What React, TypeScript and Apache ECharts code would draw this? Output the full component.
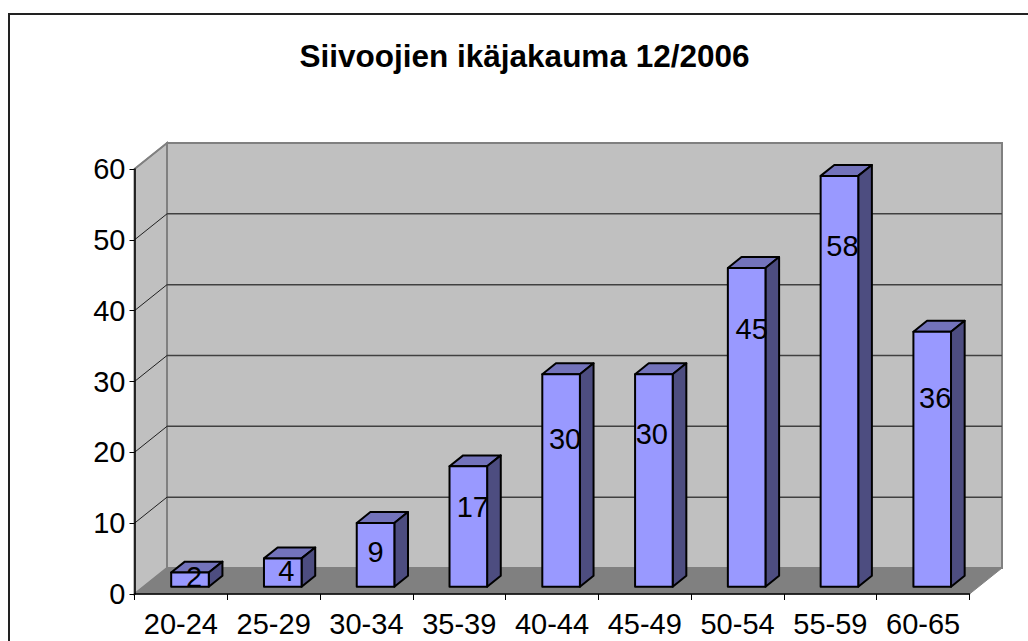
import React, { useEffect, useRef } from "react";
import * as echarts from "echarts";

const categories = ["20-24", "25-29", "30-34", "35-39", "40-44", "45-49", "50-54", "55-59", "60-65"];
const counts = [2, 4, 9, 17, 30, 30, 45, 58, 36];
const yTicks = [10, 20, 30, 40, 50, 60];

// Layout of the pseudo-3D box (pixels)
const DEPTH_X = 32.5;
const DEPTH_Y = 26;
const BAR_NEAR = 0.28;
const BAR_FAR = 0.7;
const BAR_WIDTH = 37.6;
// Excel's slightly irregular placement of the value labels (dx, distance under the bar's top)
const labelDx = [4, 3.5, 0, 4.5, 4, -2, 5, 3, 3];
const labelDrop = [4, 13, 29, 41, 65, 60, 61, 70, 66];

const FONT = '"Liberation Sans", Arial, sans-serif';

export default function App() {
  const ref = useRef<HTMLDivElement>(null);
  useEffect(() => {
    document.body.style.margin = "0";
    const chart = echarts.init(ref.current!, undefined, { renderer: "svg" });

    const renderBox = (params: any, api: any) => {
      const cs = params.coordSys;
      const x0 = cs.x, x1 = cs.x + cs.width, y0 = cs.y + cs.height;
      const top = api.coord([0, 60])[1];
      const children: any[] = [
        // back wall
        {
          type: "polygon",
          shape: { points: [[x0 + DEPTH_X, top - DEPTH_Y], [x1 + DEPTH_X, top - DEPTH_Y], [x1 + DEPTH_X, y0 - DEPTH_Y], [x0 + DEPTH_X, y0 - DEPTH_Y]] },
          style: { fill: "#C0C0C0", stroke: "#808080", lineWidth: 2 },
        },
        // side wall
        {
          type: "polygon",
          shape: { points: [[x0, top], [x0 + DEPTH_X, top - DEPTH_Y], [x0 + DEPTH_X, y0 - DEPTH_Y], [x0, y0]] },
          style: { fill: "#C0C0C0", stroke: "#808080", lineWidth: 2 },
        },
        // floor
        {
          type: "polygon",
          shape: { points: [[x0, y0], [x0 + DEPTH_X, y0 - DEPTH_Y], [x1 + DEPTH_X, y0 - DEPTH_Y], [x1, y0]] },
          style: { fill: "#808080", stroke: "#808080", lineWidth: 1 },
        },
      ];
      yTicks.forEach((t) => {
        const y = api.coord([0, t])[1];
        if (t < 60) {
          children.push({
            type: "line",
            shape: { x1: x0 + DEPTH_X, y1: y - DEPTH_Y, x2: x1 + DEPTH_X, y2: y - DEPTH_Y },
            style: { stroke: "#404040", lineWidth: 1.5 },
          });
        }
        children.push({
          type: "line",
          shape: { x1: x0, y1: y, x2: x0 + DEPTH_X, y2: y - DEPTH_Y },
          style: { stroke: t < 60 ? "#202020" : "#808080", lineWidth: t < 60 ? 1 : 1.5 },
        });
      });
      return { type: "group", children };
    };

    const renderBar = (params: any, api: any) => {
      const i = api.value(0);
      const v = api.value(1);
      const [cx, yTop0] = api.coord([i, v]);
      const yBase0 = api.coord([i, 0])[1];
      const nx = DEPTH_X * BAR_NEAR, ny = DEPTH_Y * BAR_NEAR;
      const fx = DEPTH_X * BAR_FAR - nx, fy = DEPTH_Y * BAR_FAR - ny;
      const l = cx + nx - BAR_WIDTH / 2;
      const r = l + BAR_WIDTH;
      const t = yTop0 - ny;
      const b = yBase0 - ny;
      const edge = { stroke: "#000", lineWidth: 2, lineJoin: "round" };
      return {
        type: "group",
        children: [
          { type: "polygon", shape: { points: [[l, t], [l + fx, t - fy], [r + fx, t - fy], [r, t]] }, style: { fill: "#7373BB", ...edge } },
          { type: "polygon", shape: { points: [[r, t], [r + fx, t - fy], [r + fx, b - fy], [r, b]] }, style: { fill: "#4D4D80", ...edge } },
          { type: "rect", shape: { x: l, y: t, width: BAR_WIDTH, height: b - t }, style: { fill: "#9999FF", ...edge } },
          {
            type: "text",
            style: {
              text: String(v),
              x: (l + r) / 2 + labelDx[i],
              y: t + labelDrop[i],
              fill: "#000",
              font: `29px ${FONT}`,
              textAlign: "center",
              textVerticalAlign: "middle",
            },
          },
        ],
      };
    };

    chart.setOption({
      animation: false,
      backgroundColor: "#fff",
      title: {
        text: "Siivoojien ikäjakauma 12/2006",
        left: 519.5,
        top: 35,
        textAlign: "center",
        textStyle: { fontFamily: FONT, fontWeight: "bold", fontSize: 31.5, color: "#000" },
      },
      graphic: [
        {
          type: "polyline",
          shape: { points: [[9, 641], [9, 14], [1028, 14]] },
          style: { fill: "none", stroke: "#222", lineWidth: 2 },
        },
      ],
      grid: { left: 134.5, top: 169, width: 835, height: 425, containLabel: false },
      xAxis: {
        type: "category",
        data: categories,
        z: 5,
        axisLine: { lineStyle: { color: "#000", width: 1.5 } },
        axisTick: { show: true, alignWithLabel: false, length: 6, lineStyle: { color: "#000", width: 1 } },
        axisLabel: { color: "#000", fontFamily: FONT, fontSize: 29, margin: 15, interval: 0 },
        splitLine: { show: false },
      },
      yAxis: {
        type: "value",
        min: 0,
        max: 60,
        interval: 10,
        z: 5,
        axisLine: { show: true, lineStyle: { color: "#000", width: 1.5 } },
        axisTick: { show: true, length: 5, lineStyle: { color: "#000", width: 1 } },
        axisLabel: { color: "#000", fontFamily: FONT, fontSize: 29, margin: 9 },
        splitLine: { show: false },
      },
      series: [
        { type: "custom", silent: true, z: 1, renderItem: renderBox, data: [[0, 0]], encode: { x: 0, y: 1 }, clip: false },
        {
          type: "custom",
          silent: true,
          z: 2,
          renderItem: renderBar,
          data: counts.map((v, i) => [i, v]),
          encode: { x: 0, y: 1 },
          clip: false,
        },
      ],
    });
    return () => chart.dispose();
  }, []);
  return <div ref={ref} style={{ position: "absolute", left: 0, top: 0, width: 1028, height: 641 }} />;
}
